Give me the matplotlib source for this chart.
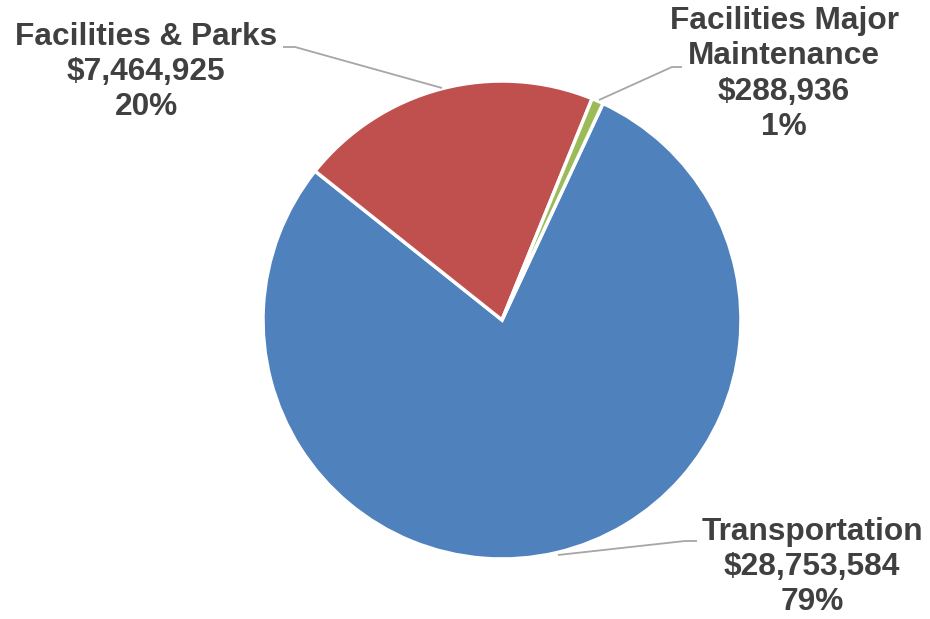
import matplotlib
matplotlib.use("Agg")
import matplotlib.pyplot as plt

categories = ["Transportation", "Facilities & Parks", "Facilities Major\nMaintenance"]
values = [28753584, 7464925, 288936]
pct_labels = ["79%", "20%", "1%"]
colors = ["#4F81BD", "#C0504D", "#9BBB59"]

W, H = 930, 619
CX, CY, R = 502, 320, 239

fig = plt.figure(figsize=(W / 100, H / 100), dpi=100)
ax = fig.add_axes([0, 0, 1, 1])
ax.pie(values, colors=colors, startangle=65, counterclock=False, radius=1,
       wedgeprops=dict(edgecolor="white", linewidth=2.5))
ax.set_xlim(-CX / R, (W - CX) / R)
ax.set_ylim(-(H - CY) / R, CY / R)
ax.set_aspect("equal")
ax.axis("off")

def p(px, py):
    return (px - CX) / R, (CY - py) / R

# label positions (pixel) and leader lines
label_pos = [(812, 567), (146, 72), (784, 74)]
leaders = [
    [(697, 541), (685, 541), (558, 555)],
    [(283, 47), (295, 47), (442, 88)],
    [(682, 67), (672, 67), (599, 100)],
]

for cat, v, pc, (lx, ly), ld in zip(categories, values, pct_labels, label_pos, leaders):
    txt = f"{cat}\n${v:,}\n{pc}"
    x, y = p(lx, ly)
    ax.text(x, y, txt, ha="center", va="center", fontsize=22.8, fontweight="bold",
            family=["Liberation Sans", "DejaVu Sans"], color="#404040", linespacing=1.22)
    xs, ys = zip(*[p(a, b) for a, b in ld])
    ax.plot(xs, ys, color="#A6A6A6", linewidth=1.3, solid_capstyle="butt")

fig.savefig("out.png", dpi=100)
